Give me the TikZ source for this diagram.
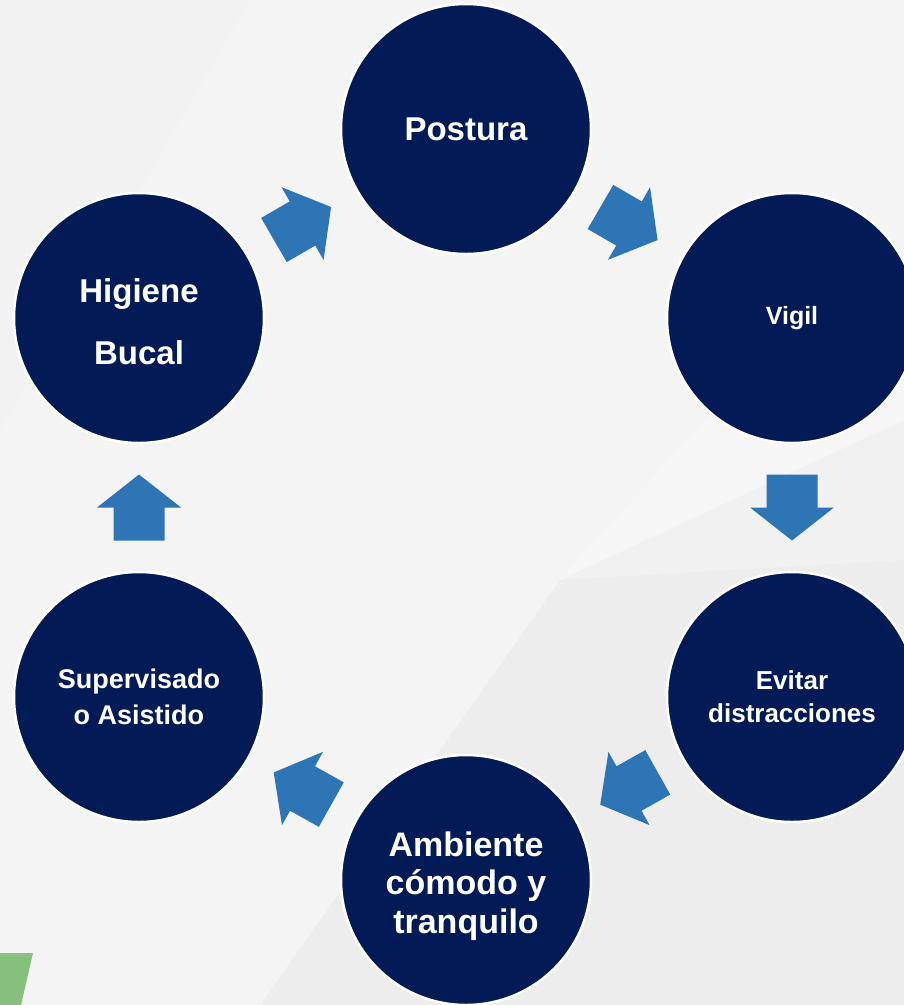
\documentclass[tikz,border=0pt]{standalone}
\usepackage{fontspec}
\setmainfont{Liberation Sans}
\usetikzlibrary{calc}
\definecolor{navy}{HTML}{021B57}
\definecolor{arrowblue}{HTML}{2E75B6}
\definecolor{bggrey}{HTML}{EDEDED}
\definecolor{leafgreen}{HTML}{86C07D}
\tikzset{
  stage/.style={circle, fill=navy, draw=white, line width=2.5pt, minimum size=250pt,
    inner sep=0pt, text=white, align=center},
  arrowfill/.style={fill=arrowblue},
  sheen/.style={fill=white, opacity=0.4},
}
\newcommand\cyclearrow[2]{%
  \fill[arrowfill] let \p1=($(#2)-(#1)$), \n1={atan2(\y1,\x1)}, \p2=($(#1)!0.5!(#2)$) in
    ($(\p2)+(\n1:33pt)$) -- ($(\p2)+(\n1+90:42pt)$) -- ($(\p2)+(\n1+90:25.5pt)$)
    -- ($(\p2)+(\n1+90:25.5pt)+(\n1+180:33pt)$) -- ($(\p2)+(\n1-90:25.5pt)+(\n1+180:33pt)$)
    -- ($(\p2)+(\n1-90:25.5pt)$) -- ($(\p2)+(\n1-90:42pt)$) -- cycle;}
\begin{document}
\begin{tikzpicture}[x=1pt,y=-1pt]
  \useasboundingbox (0,0) rectangle (904,1005);
  % background
  \fill[bggrey] (0,0) rectangle (904,1005);
  \fill[sheen] (250,0) -- (904,0) -- (904,120) -- (0,640) -- (0,430) -- cycle;
  \fill[sheen] (904,120) -- (904,420) -- (560,580) -- (260,1005) -- (0,1005) -- (0,640) -- cycle;
  \fill[white, opacity=0.25] (560,580) -- (760,360) -- (904,300) -- (904,560) -- cycle;
  \fill[white, opacity=0.3] (0,0) -- (250,0) -- (0,430) -- cycle;
  \fill[leafgreen] (0,953) -- (33,953) -- (21,1005) -- (0,1005) -- cycle;
  % stages
  \node[stage, font=\fontsize{33}{40}\selectfont\bfseries] (pos) at (466,129) {Postura};
  \node[stage, font=\fontsize{25}{30}\selectfont\bfseries] (vig) at (792,318) {Vigil};
  \node[stage, font=\fontsize{26}{33}\selectfont\bfseries] (evi) at (792,697) {Evitar\\distracciones};
  \node[stage, font=\fontsize{34}{38.5}\selectfont\bfseries] (amb) at (466,880) {\rule{0pt}{37pt}Ambiente\\cómodo y\\tranquilo};
  \node[stage, font=\fontsize{27}{36}\selectfont\bfseries] (sup) at (139,697) {Supervisado\\o Asistido};
  \node[stage, font=\fontsize{33}{62}\selectfont\bfseries] (hig) at (139,318) {\rule{0pt}{32pt}Higiene\\Bucal};
  % arrows
  \cyclearrow{hig}{pos}
  \cyclearrow{pos}{vig}
  \cyclearrow{vig}{evi}
  \cyclearrow{evi}{amb}
  \cyclearrow{amb}{sup}
  \cyclearrow{sup}{hig}
\end{tikzpicture}
\end{document}
